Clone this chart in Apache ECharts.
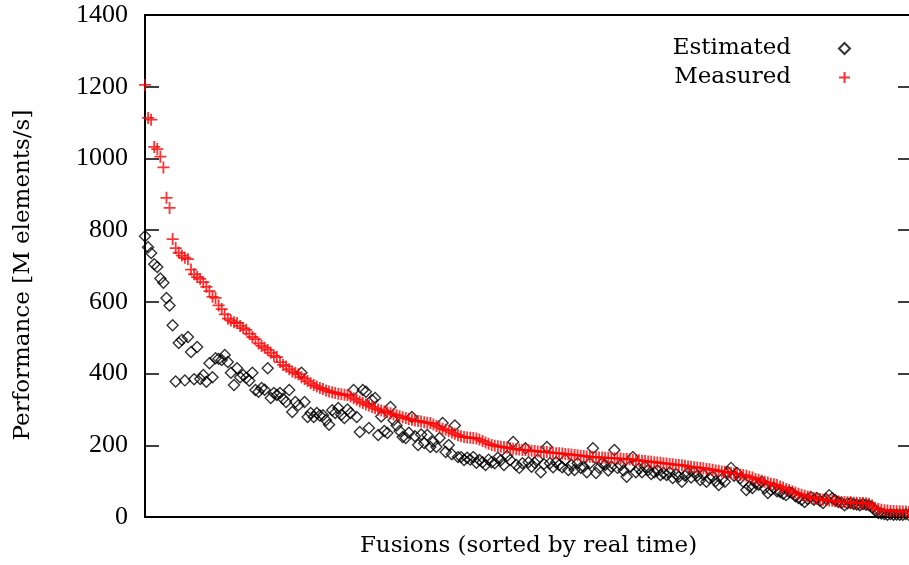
<!DOCTYPE html>
<html>
<head>
<meta charset="utf-8">
<script src="https://cdn.jsdelivr.net/npm/echarts@6/dist/echarts.min.js"></script>
<style>html,body{margin:0;padding:0;background:#fff;}#c{width:909px;height:565px;}</style>
</head>
<body>
<div id="c"></div>
<script>
// Y-axis ticks
const yTicks = [0, 200, 400, 600, 800, 1000, 1200, 1400];
const seriesNames = ['Estimated', 'Measured'];

// Estimated performance per fusion (index = fusion sorted by real time)
const estimated = [
  783, 752, 736, 705, 697, 665, 653, 611, 590, 535,
  378, 485, 494, 381, 502, 460, 384, 474, 385, 396,
  377, 429, 390, 443, 441, 438, 452, 432, 402, 368,
  415, 390, 396, 388, 380, 402, 354, 349, 360, 355,
  415, 332, 346, 340, 346, 330, 321, 354, 293, 321,
  312, 402, 321, 279, 290, 279, 290, 283, 284, 270,
  257, 298, 290, 304, 285, 276, 300, 290, 354, 279,
  237, 354, 349, 248, 326, 332, 229, 280, 240, 234,
  307, 270, 255, 240, 223, 220, 235, 279, 225, 201,
  230, 206, 229, 195, 210, 195, 220, 262, 181, 201,
  175, 255, 167, 167, 159, 165, 160, 167, 151, 159,
  153, 145, 160, 153, 150, 165, 158, 145, 170, 159,
  209, 145, 137, 150, 192, 153, 140, 151, 160, 125,
  148, 195, 150, 139, 153, 145, 139, 160, 131, 145,
  131, 150, 137, 140, 125, 150, 192, 123, 137, 150,
  145, 130, 140, 187, 137, 145, 130, 112, 140, 167,
  125, 135, 125, 140, 131, 120, 125, 130, 117, 123,
  117, 125, 109, 120, 112, 98, 115, 123, 110, 125,
  115, 103, 118, 98, 108, 112, 100, 89, 105, 98,
  125, 137, 115, 123, 108, 98, 75, 85, 81, 95,
  90, 98, 80, 67, 75, 81, 72, 70, 65, 61,
  70, 67, 58, 53, 48, 42, 50, 56, 48, 53,
  45, 39, 50, 61, 52, 47, 42, 40, 33, 38,
  39, 36, 35, 33, 36, 34, 33, 28, 18, 11,
  10, 8, 6, 8, 6, 7, 6, 6, 8, 6
];

// Measured performance per fusion
const measured = [
  1205, 1113, 1108, 1032, 1026, 1005, 975, 890, 862, 775,
  750, 737, 729, 723, 719, 690, 677, 669, 664, 655,
  642, 630, 614, 611, 590, 580, 565, 553, 548, 543,
  541, 533, 527, 522, 511, 502, 496, 484, 477, 472,
  466, 458, 450, 446, 432, 424, 420, 412, 406, 402,
  398, 390, 385, 379, 373, 368, 364, 360, 357, 353,
  350, 348, 346, 344, 342, 341, 340, 336, 331, 327,
  322, 318, 314, 311, 307, 303, 300, 297, 294, 292,
  289, 286, 284, 281, 278, 276, 273, 271, 269, 268,
  266, 264, 263, 262, 258, 254, 250, 246, 243, 240,
  236, 232, 228, 225, 223, 222, 221, 220, 219, 216,
  212, 208, 204, 201, 199, 197, 196, 195, 193, 192,
  190, 189, 188, 187, 187, 186, 185, 184, 183, 182,
  181, 181, 180, 179, 178, 178, 177, 176, 175, 174,
  173, 172, 171, 170, 169, 168, 167, 167, 166, 166,
  165, 165, 164, 164, 163, 163, 162, 162, 161, 160,
  159, 158, 157, 156, 155, 154, 153, 152, 151, 150,
  149, 148, 147, 146, 145, 144, 143, 141, 140, 139,
  138, 137, 136, 134, 133, 132, 130, 129, 127, 126,
  124, 123, 121, 120, 118, 117, 115, 112, 110, 106,
  104, 101, 98, 96, 93, 91, 89, 85, 82, 78,
  75, 71, 68, 65, 62, 59, 57, 55, 53, 51,
  50, 48, 47, 46, 45, 44, 43, 42, 42, 41,
  41, 40, 40, 39, 39, 38, 37, 32, 26, 22,
  20, 19, 18, 17, 17, 16, 16, 15, 15, 14
];

const NUMFONT = '"Liberation Serif", serif';
const TXTFONT = '"DejaVu Serif", "Liberation Serif", serif';
const chart = echarts.init(document.getElementById('c'), null, {renderer: 'canvas'});
const crossPath = 'path://M5,0L5,10M0,5L10,5';

chart.setOption({
  animation: false,
  backgroundColor: '#fff',
  textStyle: {fontFamily: TXTFONT},
  grid: {left: 145, top: 15, right: -3, bottom: 48, containLabel: false, outerBoundsMode: 'none'},
  legend: {
    orient: 'vertical',
    right: 58, top: 37,
    padding: 0,
    align: 'right',
    itemWidth: 11, itemHeight: 11,
    itemGap: 6,
    textStyle: {fontFamily: TXTFONT, fontSize: 23, color: '#000', padding: [0, 43, 0, 0]},
    data: seriesNames
  },
  xAxis: [{
    type: 'value', min: 0, max: estimated.length,
    position: 'bottom',
    name: 'Fusions (sorted by real time)',
    nameLocation: 'middle', nameGap: 18,
    nameTextStyle: {fontFamily: TXTFONT, fontSize: 23, color: '#000'},
    axisLine: {show: true, onZero: false, lineStyle: {color: '#000', width: 2}},
    axisTick: {show: false}, axisLabel: {show: false}, splitLine: {show: false}
  }, {
    type: 'value', min: 0, max: estimated.length,
    position: 'top',
    axisLine: {show: true, onZero: false, lineStyle: {color: '#000', width: 2}},
    axisTick: {show: false}, axisLabel: {show: false}, splitLine: {show: false}
  }],
  yAxis: [{
    type: 'value', min: yTicks[0], max: yTicks[yTicks.length - 1], interval: 200,
    position: 'left',
    name: 'Performance [M elements/s]',
    nameLocation: 'middle', nameGap: 110, nameRotate: 90,
    nameTextStyle: {fontFamily: TXTFONT, fontSize: 23, color: '#000', padding: [0, 18, 0, 0]},
    axisLine: {show: true, onZero: false, lineStyle: {color: '#000', width: 2}},
    axisTick: {show: true, inside: true, length: 14, lineStyle: {color: '#000', width: 1.5}},
    axisLabel: {fontFamily: NUMFONT, fontSize: 26, color: '#000', margin: 17,
      formatter: v => String(v)},
    splitLine: {show: false}
  }, {
    type: 'value', min: yTicks[0], max: yTicks[yTicks.length - 1], interval: 200,
    position: 'right',
    axisLine: {show: true, onZero: false, lineStyle: {color: '#000', width: 2}},
    axisTick: {show: true, inside: true, length: 14, lineStyle: {color: '#000', width: 1.5}},
    axisLabel: {show: false}, splitLine: {show: false}
  }],
  series: [{
    name: seriesNames[0],
    type: 'scatter',
    symbol: 'diamond',
    symbolSize: 11,
    itemStyle: {color: 'rgba(255,255,255,0)', borderColor: '#000', borderWidth: 1.4},
    data: estimated.map((v, i) => [i, v])
  }, {
    name: seriesNames[1],
    type: 'scatter',
    symbol: crossPath,
    symbolSize: 12,
    symbolKeepAspect: true,
    itemStyle: {color: 'rgba(255,255,255,0)', borderColor: '#ff0000', borderWidth: 1.8},
    data: measured.map((v, i) => [i, v])
  }]
});
</script>
</body>
</html>
